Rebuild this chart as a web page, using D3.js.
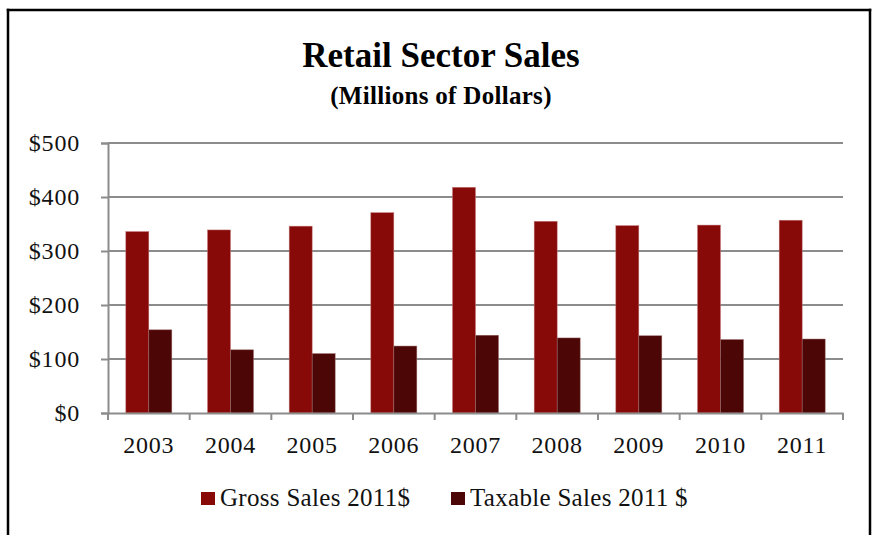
<!DOCTYPE html>
<html>
<head>
<meta charset="utf-8">
<script src="https://cdn.jsdelivr.net/npm/d3@7"></script>
<style>
  body { margin: 0; background: #fff; }
  svg { font-family: "Liberation Serif", "DejaVu Serif", serif; display: block; }
</style>
</head>
<body>
<svg width="873" height="535"></svg>
<script>
// data (millions of dollars)
const years = ['2003', '2004', '2005', '2006', '2007', '2008', '2009', '2010', '2011'];
const grossSales = [336, 339, 346, 371, 418, 355, 347, 348, 357];
const taxableSales = [154, 117, 110, 124, 144, 139, 143, 136, 137];
const seriesNames = ['Gross Sales 2011$', 'Taxable Sales 2011 $'];
const yTicks = [0, 100, 200, 300, 400, 500];

const colors = ['#870a08', '#4d0606'];

const svg = d3.select('svg');
const width = +svg.attr('width');
const height = +svg.attr('height');

// outer frame: top, left and right edges (the bottom falls outside the picture)
const frame = [
  [8, 10, 870, 10],
  [8, 10, 8, height],
  [870, 10, 870, height]
];
svg.append('g').selectAll('line').data(frame)
  .enter().append('line')
    .attr('x1', d => d[0]).attr('y1', d => d[1])
    .attr('x2', d => d[2]).attr('y2', d => d[3])
    .attr('stroke', '#000')
    .attr('stroke-width', 2.5)
    .attr('stroke-linecap', 'square');

// titles
svg.append('text')
  .attr('x', 441).attr('y', 67)
  .attr('text-anchor', 'middle')
  .attr('font-size', 35).attr('font-weight', 'bold')
  .text('Retail Sector Sales');

svg.append('text')
  .attr('x', 441).attr('y', 104)
  .attr('text-anchor', 'middle')
  .attr('font-size', 25).attr('font-weight', 'bold')
  .attr('letter-spacing', 0.3)
  .text('(Millions of Dollars)');

const margin = { top: 143, left: 108 };
const innerWidth = 843 - margin.left;
const innerHeight = 413 - margin.top;

const g = svg.append('g')
  .attr('transform', `translate(${margin.left}, ${margin.top})`);

const xScale = d3.scaleBand()
  .domain(years)
  .range([0, innerWidth]);

const yScale = d3.scaleLinear()
  .domain([0, 500])
  .range([innerHeight, 0]);

// gridlines
g.append('g').selectAll('line')
  .data(yTicks.filter(d => d > 0))
  .enter().append('line')
    .attr('x1', 0).attr('x2', innerWidth)
    .attr('y1', d => yScale(d)).attr('y2', d => yScale(d))
    .attr('stroke', '#8c8c8c')
    .attr('stroke-width', 2);

// bars
const barW = 23;
const groups = g.selectAll('.year').data(years)
  .enter().append('g')
    .attr('transform', d => `translate(${xScale(d) + xScale.bandwidth() / 2 - barW}, 0)`);

groups.append('rect')
  .attr('x', 0)
  .attr('y', (d, i) => yScale(grossSales[i]))
  .attr('width', barW)
  .attr('height', (d, i) => innerHeight - yScale(grossSales[i]))
  .attr('fill', colors[0])
  .attr('stroke', '#c47878').attr('stroke-width', 0.5);

groups.append('rect')
  .attr('x', barW)
  .attr('y', (d, i) => yScale(taxableSales[i]))
  .attr('width', barW)
  .attr('height', (d, i) => innerHeight - yScale(taxableSales[i]))
  .attr('fill', colors[1])
  .attr('stroke', '#9a6a6a').attr('stroke-width', 0.5);

// y-as (lines from the axis, labels placed with the scale)
const yAxis = g.append('g')
  .call(d3.axisLeft(yScale).tickValues(yTicks).tickSize(7));
yAxis.selectAll('.tick text').remove();
yAxis.select('.domain').attr('stroke', '#8c8c8c').attr('stroke-width', 2);
yAxis.selectAll('.tick line').attr('stroke', '#8c8c8c').attr('stroke-width', 2);

g.append('g').selectAll('text')
  .data(yTicks)
  .enter().append('text')
    .attr('x', -28)
    .attr('y', d => yScale(d) + 8)
    .attr('text-anchor', 'end')
    .attr('font-size', 24)
    .attr('letter-spacing', 0.8)
    .attr('fill', '#111')
    .text(d => '$' + d);

// x-as
const xAxis = g.append('g')
  .attr('transform', `translate(0, ${innerHeight})`)
  .call(d3.axisBottom(xScale).tickSize(0));
xAxis.selectAll('.tick').remove();
xAxis.select('.domain').attr('stroke', '#8c8c8c').attr('stroke-width', 2);

// tick marks between categories
xAxis.append('g').selectAll('line')
  .data(years.concat(['end']))
  .enter().append('line')
    .attr('x1', (d, i) => i * xScale.step())
    .attr('x2', (d, i) => i * xScale.step())
    .attr('y1', 0).attr('y2', 7)
    .attr('stroke', '#8c8c8c')
    .attr('stroke-width', 2);

g.append('g').selectAll('text')
  .data(years)
  .enter().append('text')
    .attr('x', d => xScale(d) + xScale.bandwidth() / 2)
    .attr('y', innerHeight + 40)
    .attr('text-anchor', 'middle')
    .attr('font-size', 24)
    .attr('letter-spacing', 0.8)
    .attr('fill', '#111')
    .text(d => d);

// legend
const legendX = [201, 451];
const legend = svg.append('g').selectAll('g').data(seriesNames)
  .enter().append('g')
    .attr('transform', (d, i) => `translate(${legendX[i]}, 492)`);

legend.append('rect')
  .attr('width', 14).attr('height', 13)
  .attr('fill', (d, i) => colors[i]);

legend.append('text')
  .attr('x', 19).attr('y', 14)
  .attr('font-size', 25)
  .attr('letter-spacing', 0.3)
  .attr('fill', '#111')
  .text(d => d);
</script>
</body>
</html>
